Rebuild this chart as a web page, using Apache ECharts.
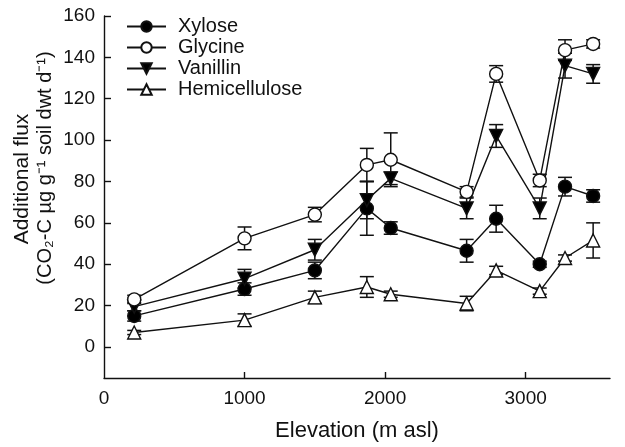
<!DOCTYPE html>
<html><head><meta charset="utf-8">
<script src="https://cdn.jsdelivr.net/npm/echarts@6/dist/echarts.min.js"></script>
<style>html,body{margin:0;padding:0;background:#fff}#c{width:625px;height:447px}</style>
</head><body><div id="c"></div>
<script>
var elevation = [215, 1000, 1500, 1870, 2040, 2580, 2790, 3100, 3280, 3480];
var xylose = [15, 28, 37, 67, 57.5, 46.5, 62, 40, 77.5, 73];
var xyloseErr = [2.5, 3, 4, 13, 3, 5.5, 6.5, 1.5, 4.5, 3];
var glycine = [23, 52.5, 64, 88, 90.5, 75, 132, 80.5, 143.5, 146.5];
var glycineErr = [2, 5.5, 3.5, 8, 13, 2.5, 4, 3, 5, 2];
var vanillin = [19.5, 33, 47, 71, 81.5, 67, 102, 67, 136, 132];
var vanillinErr = [2, 4.5, 5, 9, 3, 5, 5.5, 5, 6, 4.5];
var hemicellulose = [7, 13, 24, 29, 25.5, 21, 37, 27, 43, 51.5];
var hemicelluloseErr = [1, 3, 3, 5, 1.5, 3.5, 2, 1.5, 1.5, 8.5];
var yTicks = [0, 20, 40, 60, 80, 100, 120, 140, 160];
var xTicks = [0, 1000, 2000, 3000];
var yTitle1 = 'Additional flux';
var yTitle2 = '(CO\u2082-C \u00b5g g\u207b\u00b9 soil dwt d\u207b\u00b9)';
var xTitle = 'Elevation (m asl)';

var FONT = 'Liberation Sans';
function pts(v){ return elevation.map(function(e,i){return [e, v[i]];}); }
function errPts(v,er){ return elevation.map(function(e,i){return [e, v[i], er[i]];}); }
function errSeries(v,er){
  return {
    type:'custom', silent:true, z:1,
    data: errPts(v,er),
    renderItem: function(params, api){
      var x = api.value(0), y = api.value(1), e = api.value(2);
      var top = api.coord([x, y+e]), bot = api.coord([x, y-e]);
      var w = 7;
      var st = {stroke:'#111', lineWidth:1.5};
      return {type:'group', children:[
        {type:'line', shape:{x1:top[0],y1:top[1],x2:bot[0],y2:bot[1]}, style:st},
        {type:'line', shape:{x1:top[0]-w,y1:top[1],x2:top[0]+w,y2:top[1]}, style:st},
        {type:'line', shape:{x1:bot[0]-w,y1:bot[1],x2:bot[0]+w,y2:bot[1]}, style:st}
      ]};
    }
  };
}
function lineSeries(name, v, symbol, fill, rot, size){
  return {
    name:name, type:'line', data:pts(v), symbol:symbol, symbolSize:size, symbolRotate:rot,
    z:3,
    lineStyle:{color:'#111', width:1.4},
    itemStyle:{color:fill, borderColor:'#111', borderWidth:1.4, opacity:1},
    emphasis:{disabled:true}, animation:false
  };
}
var chart = echarts.init(document.getElementById('c'), null, {renderer:'canvas'});
chart.setOption({
  animation:false,
  backgroundColor:'#fff',
  textStyle:{fontFamily:FONT},
  grid:{left:104, right:15, top:16, bottom:66, containLabel:false},
  legend:{
    data:['Xylose','Glycine','Vanillin','Hemicellulose'],
    orient:'vertical', left:126, top:16, padding:0, itemWidth:39, itemHeight:13, itemGap:0,
    textStyle:{fontFamily:FONT, fontSize:20, color:'#111', lineHeight:21, padding:[0,0,0,7]},
    selectedMode:false
  },
  graphic:[
    {type:'text', x:22, y:179, rotation:Math.PI/2, silent:true,
     style:{text:yTitle1, fontFamily:FONT, fontSize:21, fill:'#111', align:'center', verticalAlign:'middle'}},
    {type:'text', x:45, y:168, rotation:Math.PI/2, silent:true,
     style:{text:yTitle2, fontFamily:FONT, fontSize:20, fill:'#111', align:'center', verticalAlign:'middle'}}
  ],
  xAxis:{
    type:'value', min:0, max:3600,
    name:xTitle, nameLocation:'middle', nameGap:42,
    nameTextStyle:{fontFamily:FONT, fontSize:22, color:'#111'},
    axisLine:{show:true, onZero:false, lineStyle:{color:'#111', width:1.4}},
    axisTick:{show:true, inside:true, length:6, lineStyle:{color:'#111', width:1.4}, customValues:xTicks.slice(1)},
    axisLabel:{fontFamily:FONT, fontSize:19, color:'#111', margin:11, customValues:xTicks, formatter:function(v){return String(v);}},
    splitLine:{show:false}
  },
  yAxis:{
    type:'value', min:-15, max:160,
    axisLine:{show:true, onZero:false, lineStyle:{color:'#111', width:1.4}},
    axisTick:{show:true, inside:true, length:7, lineStyle:{color:'#111', width:1.4}, customValues:yTicks},
    axisLabel:{fontFamily:FONT, fontSize:19, color:'#111', margin:9, customValues:yTicks, formatter:function(v){return String(v);}},
    splitLine:{show:false}
  },
  series:[
    errSeries(hemicellulose, hemicelluloseErr),
    errSeries(xylose, xyloseErr),
    errSeries(vanillin, vanillinErr),
    errSeries(glycine, glycineErr),
    lineSeries('Hemicellulose', hemicellulose, 'triangle', '#fff', 0, 13),
    lineSeries('Xylose', xylose, 'circle', '#000', 0, 13),
    lineSeries('Vanillin', vanillin, 'triangle', '#000', 180, 13),
    lineSeries('Glycine', glycine, 'circle', '#fff', 0, 13)
  ]
});
</script></body></html>
